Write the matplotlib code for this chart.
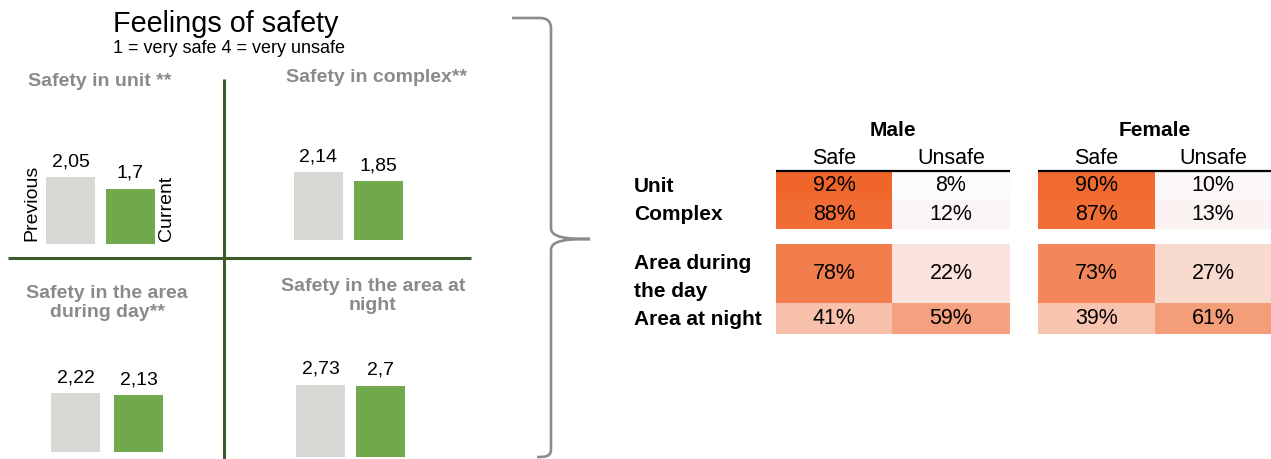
import numpy as np
import matplotlib.pyplot as plt
from matplotlib.path import Path
from matplotlib.patches import PathPatch
from matplotlib.colors import LinearSegmentedColormap, Normalize

###---data---###
panel_titles = ["Safety in unit **", "Safety in complex**",
                "Safety in the area\nduring day**", "Safety in the area at\nnight"]
previous = [2.05, 2.14, 2.22, 2.73]
current = [1.70, 1.85, 2.13, 2.70]

row_labels = ["Unit", "Complex", "Area during\nthe day", "Area at night"]
male_safe = [92, 88, 78, 41]
male_unsafe = [8, 12, 22, 59]
female_safe = [90, 87, 73, 39]
female_unsafe = [10, 13, 27, 61]

plt.rcParams['font.family'] = 'Liberation Sans'

W, H = 1271, 459
fig = plt.figure(figsize=(W/100, H/100), dpi=100)

def px_axes(x0, y0, x1, y1):
    return fig.add_axes([x0/W, 1-y1/H, (x1-x0)/W, (y1-y0)/H])

# overlay axes in pixel units for lines, text and table
ov = px_axes(0, 0, W, H)
ov.set_xlim(0, W)
ov.set_ylim(H, 0)
ov.axis("off")

gray_bar = "#d9d8d4"
green_bar = "#70a84c"
line_green = "#3d5a29"

###---bar panels---###
# (center of first bar, slot width, baseline, px per unit)
panel_geo = [(70.5, 60, 244, 32.5), (318.5, 60, 240, 31.8),
             (75.5, 63, 452, 26.6), (320.5, 60, 457, 26.4)]
for i, (cx, slot, base, scale) in enumerate(panel_geo):
    ax = px_axes(cx - slot/2, base - 110, cx + 1.5*slot, base)
    ax.set_xlim(-0.5, 1.5)
    ax.set_ylim(0, 110/scale)
    bars = ax.bar([0, 1], [previous[i], current[i]], width=49/slot,
                  color=[gray_bar, green_bar])
    for b, v in zip(bars, [previous[i], current[i]]):
        ax.annotate(f"{v:g}".replace(".", ","), (b.get_x()+b.get_width()/2, v),
                    xytext=(0, 5), textcoords="offset points",
                    ha="center", va="bottom", fontsize=14)
    ax.axis("off")

title_pos = [(100, 81), (377, 77), (107, 303), (373, 296)]
for t, (x, y) in zip(panel_titles, title_pos):
    ov.text(x, y, t, ha="center", va="center", fontsize=14, fontweight="bold",
            color="#8a8a8a", linespacing=1.2)

ov.text(32, 241, "Previous", rotation=90, ha="center", va="bottom", fontsize=14)
ov.text(167, 241, "Current", rotation=90, ha="center", va="bottom", fontsize=14)

ov.text(113, 32, "Feelings of safety", fontsize=20.7, va="baseline")
ov.text(113, 53, "1 = very safe 4 = very unsafe", fontsize=13, va="baseline")

# quadrant lines
ov.plot([224, 224], [79, 459], color=line_green, lw=2.2, solid_capstyle="butt")
ov.plot([8, 471], [258, 258], color=line_green, lw=2.2, solid_capstyle="butt")

# bracket
verts = [(512, 18), (540, 18), (551, 18), (551, 28),
         (551, 228), (551, 238), (568, 239), (590, 239),
         (568, 239), (551, 240), (551, 250),
         (551, 449), (551, 457), (545, 457), (537, 457)]
codes = [Path.MOVETO, Path.LINETO, Path.CURVE3, Path.CURVE3,
         Path.LINETO, Path.CURVE4, Path.CURVE4, Path.CURVE4,
         Path.CURVE4, Path.CURVE4, Path.CURVE4,
         Path.LINETO, Path.CURVE4, Path.CURVE4, Path.CURVE4]
ov.add_patch(PathPatch(Path(verts, codes), fill=False, edgecolor="#8c8c8c", lw=1.9))

###---table---###
cmap = LinearSegmentedColormap.from_list("wo", ["#fcfcff", "#f0652a"])
norm = Normalize(vmin=8, vmax=92)
row_edges = [172, 199, 229, 244, 303, 334]
data_rows = [0, 1, 3, 4]  # row index 2 is the gap
groups = [("Male", [776, 892, 1010], male_safe, male_unsafe),
          ("Female", [1038, 1155, 1271], female_safe, female_unsafe)]
for name, col_edges, safe, unsafe in groups:
    C = np.full((5, 2), np.nan)
    for r, s, u in zip(data_rows, safe, unsafe):
        C[r] = [s, u]
    ov.pcolormesh(col_edges, row_edges, np.ma.masked_invalid(C), cmap=cmap, norm=norm)
    for r, s, u in zip(data_rows, safe, unsafe):
        yc = (row_edges[r] + row_edges[r+1]) / 2
        for c, v in enumerate([s, u]):
            xc = (col_edges[c] + col_edges[c+1]) / 2
            ov.text(xc, yc, f"{v}%", ha="center", va="center", fontsize=15.5)
    ov.text((col_edges[0]+col_edges[2])/2, 130, name, ha="center", va="center",
            fontsize=15, fontweight="bold")
    for c, lab in enumerate(["Safe", "Unsafe"]):
        ov.text((col_edges[c]+col_edges[c+1])/2, 158, lab, ha="center", va="center", fontsize=15.5)
    ov.plot([col_edges[0], col_edges[2]], [171, 171], color="black", lw=1.6,
            solid_capstyle="butt")

for r, lab in zip(data_rows, row_labels):
    yc = (row_edges[r] + row_edges[r+1]) / 2
    ov.text(634, yc + (4 if "\n" in lab else 1), lab, ha="left", va="center",
            fontsize=15, fontweight="bold", linespacing=1.55)

fig.savefig("out.png", dpi=100)
